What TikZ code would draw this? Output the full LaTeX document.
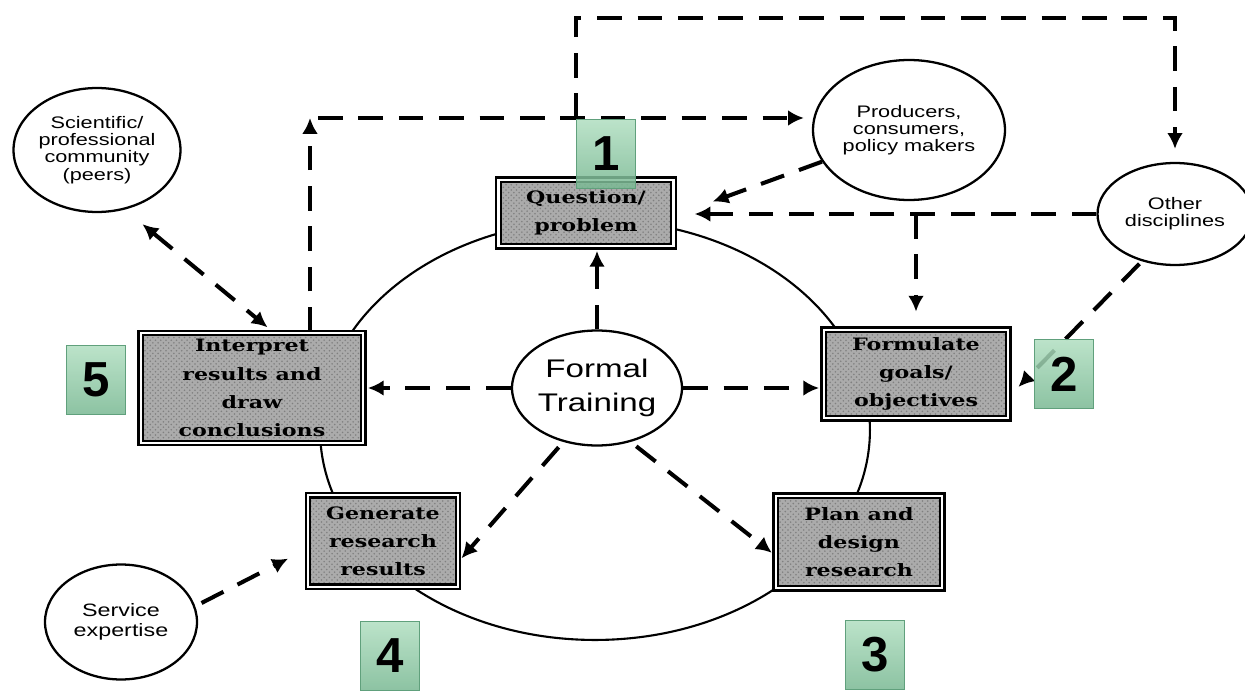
\documentclass[tikz,border=0pt]{standalone}
\usepackage{fontspec}
\setmainfont{DejaVu Serif}
\newfontfamily\boxfont[FakeStretch=1.3]{DejaVu Serif}
\newfontfamily\circfont[FakeStretch=1.3]{Liberation Sans}
\newfontfamily\numfont{Liberation Sans}
\usetikzlibrary{arrows.meta,shapes.geometric,patterns}
\definecolor{numtop}{RGB}{176,222,192}
\definecolor{numbot}{RGB}{120,184,146}
\definecolor{numedge}{RGB}{96,160,124}

\begin{document}
\begin{tikzpicture}[x=0.02cm,y=-0.02cm,
    >={Latex[length=9pt,width=9pt]},
    box/.style={rectangle,draw,line width=1.3pt,double=white,double distance=1.2pt,
      preaction={fill=black!33},pattern=crosshatch dots,pattern color=black!50,
      align=center,inner sep=2pt,font=\boxfont\bfseries\fontsize{9.7}{16}\selectfont},
    circ/.style={ellipse,draw,line width=1.3pt,fill=white,align=center,inner sep=0pt,
      font=\circfont\fontsize{9.5}{9.8}\selectfont},
    dline/.style={line width=2.3pt,dash pattern=on 14pt off 9pt},
    numbox/.style={rectangle,minimum width=1.18cm,minimum height=1.38cm,
      top color=numtop,bottom color=numbot,draw=numedge,line width=1pt,
      fill opacity=0.85,text opacity=1,
      font=\numfont\bfseries\fontsize{28}{28}\selectfont}]
        \useasboundingbox (0,0) rectangle (1245,696);

        % 大循环
        \draw[line width=1.2pt] (595,430) ellipse [x radius=5.5cm, y radius=4.2cm];

        % 五个步骤
        \node[box,minimum width=3.5cm,minimum height=1.33cm] (qp) at (586,213) {Question/\\problem};
        \node[box,minimum width=3.69cm,minimum height=1.77cm] (fgo) at (916,374) {Formulate\\goals/\\objectives};
        \node[box,minimum width=3.33cm,minimum height=1.85cm] (pdr) at (859,542) {Plan and\\design\\research};
        \node[box,minimum width=3.0cm,minimum height=1.83cm] (grr) at (383,541) {Generate\\research\\results};
        \node[box,minimum width=4.45cm,minimum height=2.2cm] (igc) at (252,388) {Interpret\\results and\\draw\\conclusions};

        % 中心和外部圆
        \node[circ,minimum width=3.4cm,minimum height=2.3cm,
          font=\circfont\fontsize{14.5}{19}\selectfont] (ft) at (597,388) {Formal\\Training};
        \node[circ,minimum width=3.34cm,minimum height=2.48cm] (spc) at (97,150) {Scientific/\\professional\\community\\(peers)};
        \node[circ,minimum width=3.84cm,minimum height=2.8cm] (pcp) at (909,130) {Producers,\\consumers,\\policy makers};
        \node[circ,minimum width=3.1cm,minimum height=2.04cm] (od) at (1175,214) {Other\\disciplines};
        \node[circ,minimum width=3.04cm,minimum height=2.3cm,
          font=\circfont\fontsize{10.2}{11.3}\selectfont] (se) at (121,622) {Service\\expertise};

        % 上方虚线
        \coordinate (tl) at (310,118);
        \coordinate (tj) at (576,118);
        \coordinate (tc) at (576,18);
        \coordinate (tr) at (1175,18);
        \draw[dline,->] (igc.north -| tl) -- (tl);
        \draw[dline,->,shorten >=0.16cm] ([xshift=0.16cm]tl) -- (tl -| pcp.west);
        \draw[dline,->,shorten >=0.26cm] (tj) -- (tc) -- (tr) -- (od.north);
        \draw[dline,->] (pcp.200) -- ([xshift=0.76cm,yshift=-0.46cm]qp.north east);
        \draw[dline,->,shorten >=0.4cm] (od.west) -- (od.west -| qp.east);
        \draw[dline,->,shorten >=0.34cm] (od.west -| fgo.north) -- (fgo.north);
        \draw[dline,->,shorten <=2pt] (od.235) -- ([xshift=0.18cm,yshift=-0.26cm]fgo.east);

        % 从中心出发
        \draw[dline,->,shorten >=2pt] (ft.north) -- (ft.north |- qp.south);
        \draw[dline,->,shorten >=2pt] (ft.west) -- (ft.west -| igc.east);
        \draw[dline,->,shorten >=2pt] (ft.east) -- (ft.east -| fgo.west);
        \draw[dline,->,shorten <=4pt,shorten >=2pt] (ft.238) -- ([yshift=-0.4cm]grr.east);
        \draw[dline,->,shorten <=4pt,shorten >=2pt] (ft.-58) -- ([yshift=-0.26cm]pdr.west);

        % 左侧
        \draw[dline,<->,shorten <=13pt,shorten >=4pt] (spc.-65) -- ([xshift=0.42cm]igc.north);
        \draw[dline,->,shorten <=4pt,shorten >=12pt] (se.12) -- ([yshift=-0.16cm]grr.west);

        % 编号
        \node[numbox] (n1) at (606,154) {1};
        \node[numbox] (n2) at (1064,374) {2};
        \node[numbox] (n3) at (875,655) {3};
        \node[numbox] (n4) at (390,656) {4};
        \node[numbox] (n5) at (96,380) {5};
      \end{tikzpicture}
\end{document}
